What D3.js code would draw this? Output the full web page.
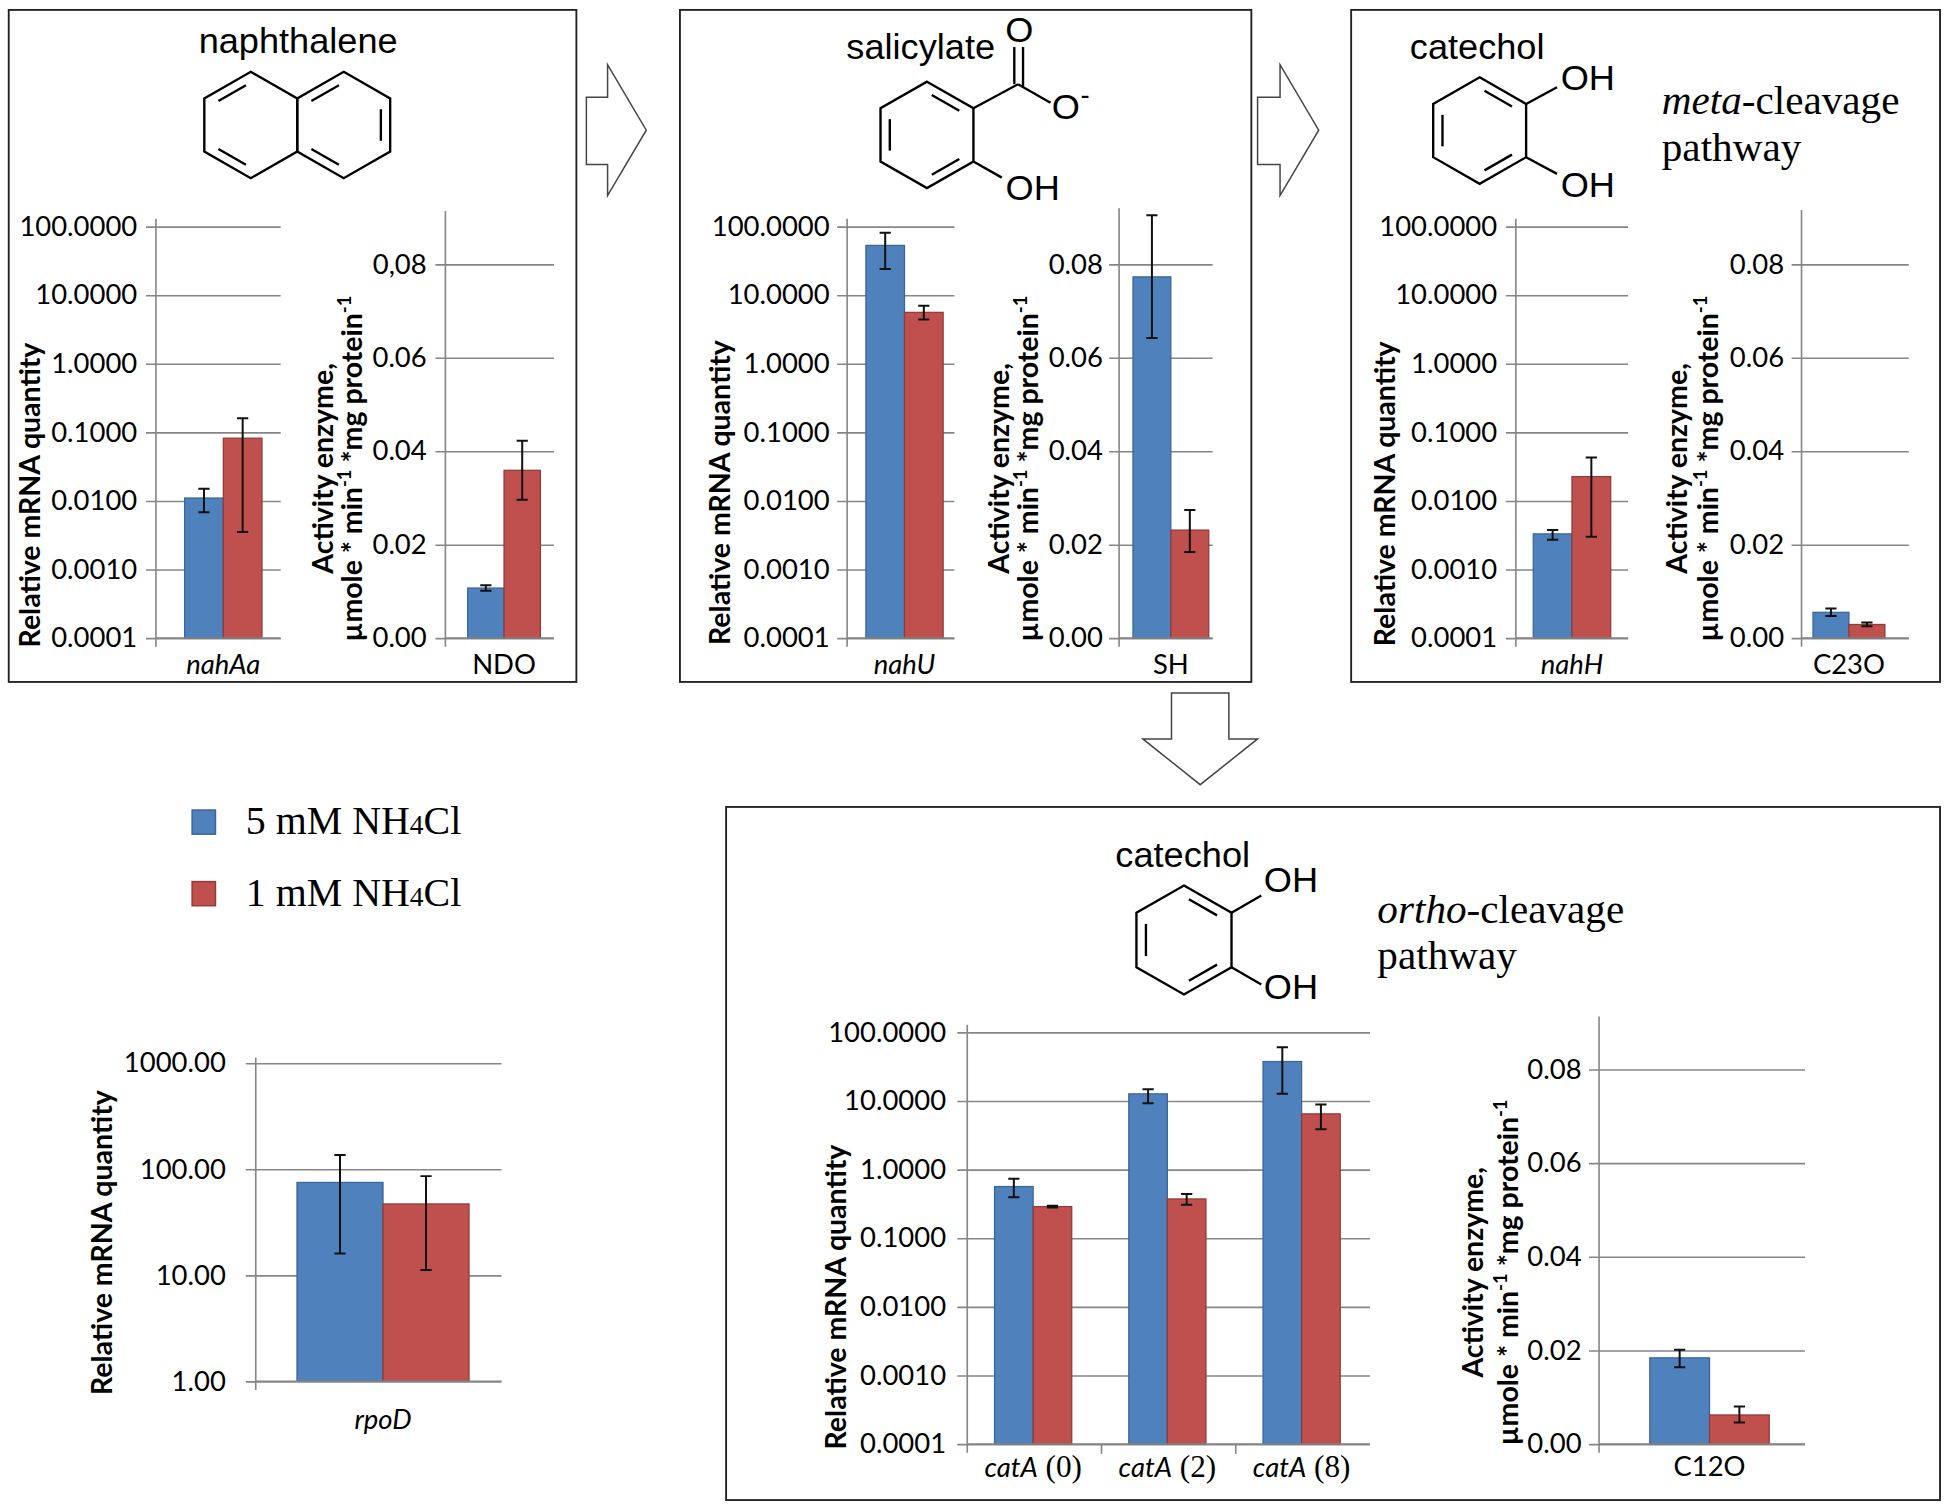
<!DOCTYPE html>
<html>
<head>
<meta charset="utf-8">
<script src="https://cdn.jsdelivr.net/npm/d3@7"></script>
<style>
  body { margin: 0; background: #fff; }
</style>
</head>
<body>
<svg id="fig"></svg>
<script>
// ---------------------------------------------------------------
// data (mean and [low, high] of error bars)
// ---------------------------------------------------------------
var groups = ["5 mM NH4Cl", "1 mM NH4Cl"];
var groupColors = ["#4f81bd", "#c0504d"];
var groupStroke = ["#3a6596", "#8f3b38"];

// relative mRNA quantity (log axis)
var nahAaMean = [0.011, 0.082];
var nahAaErr  = [[0.0068, 0.015], [0.0035, 0.16]];
var nahUMean  = [53, 5.6];
var nahUErr   = [[24, 81], [4.4, 7.0]];
var nahHMean  = [0.0033, 0.0226];
var nahHErr   = [[0.0027, 0.00375], [0.003, 0.043]];
var rpoDMean  = [75, 47];
var rpoDErr   = [[16, 136], [11.2, 86]];

var catAStrains = ["(0)", "(2)", "(8)"];
var catA5mM    = [0.564, 12.65, 37.4];
var catA5mMErr = [[0.394, 0.73], [9.25, 14.8], [12.65, 60.5]];
var catA1mM    = [0.288, 0.372, 6.46];
var catA1mMErr = [[0.279, 0.297], [0.305, 0.44], [3.86, 8.85]];

// enzyme activity, umole * min-1 * mg protein-1 (linear axis)
var ndoMean  = [0.0107, 0.0359];
var ndoErr   = [[0.0101, 0.0113], [0.0296, 0.0422]];
var shMean   = [0.0773, 0.0231];
var shErr    = [[0.0642, 0.0905], [0.0184, 0.0274]];
var c23oMean = [0.0055, 0.0029];
var c23oErr  = [[0.0047, 0.0063], [0.0025, 0.0033]];
var c12oMean = [0.0184, 0.0062];
var c12oErr  = [[0.0164, 0.0201], [0.0046, 0.0080]];

// ticks
var logTicks  = [0.0001, 0.001, 0.01, 0.1, 1, 10, 100];
var rpoDTicks = [1, 10, 100, 1000];
var actTicks  = [0, 0.02, 0.04, 0.06, 0.08];
var ndoTickText = ["0.00", "0.02", "0.04", "0.06", "0,08"];

var logTickText  = logTicks.map(d3.format(".4f"));
var rpoDTickText = rpoDTicks.map(d3.format(".2f"));
var actTickText  = actTicks.map(d3.format(".2f"));

var gridColor = "#868686";
var sans = "Lato, 'Open Sans', sans-serif";
var arial = "'Liberation Sans', Arial, sans-serif";
var serif = "'Liberation Serif', 'Times New Roman', serif";

// ---------------------------------------------------------------
// svg (drawn in a 1563 x 1216 frame, stretched to the window)
// ---------------------------------------------------------------
var svg = d3.select("#fig")
    .attr("width", 1950)
    .attr("height", 1505)
    .attr("viewBox", "0 0 1563 1216")
    .attr("preserveAspectRatio", "none");

// panels
var panels = [
  {x: 7,    y: 8,   w: 455, h: 543},
  {x: 545,  y: 8,   w: 458, h: 543},
  {x: 1083, y: 8,   w: 472, h: 543},
  {x: 582,  y: 652, w: 973, h: 560}
];
svg.selectAll(".panel")
  .data(panels)
  .enter().append("rect")
    .attr("class", "panel")
    .attr("x", function(d){ return d.x; })
    .attr("y", function(d){ return d.y; })
    .attr("width", function(d){ return d.w; })
    .attr("height", function(d){ return d.h; })
    .attr("fill", "none")
    .attr("stroke", "#222")
    .attr("stroke-width", 1.5);

// ---------------------------------------------------------------
// bar chart helper
// ---------------------------------------------------------------
function drawChart(c) {
  var g = svg.append("g").attr("class", "chart");
  var shift = c.shift || 0;

  // y scale
  var y = (c.log ? d3.scaleLog() : d3.scaleLinear())
      .domain(c.domain)
      .range([c.bottom, c.top]);

  // x scale (one equal slot per category, like excel)
  var x = d3.scaleBand()
      .domain(c.rows.map(function(d){ return d.cat; }))
      .range([c.left, c.right])
      .paddingInner(c.gap)
      .paddingOuter(c.gap / 2);

  // inner scale for the two nitrogen levels
  var xg = d3.scaleBand().domain(groups).range([0, x.bandwidth()]);

  // gridlines and tick labels
  var yAxisCall = d3.axisLeft(y)
      .tickValues(c.ticks)
      .tickSizeInner(-(c.right - c.left))
      .tickSizeOuter(0)
      .tickPadding(c.pad)
      .tickFormat(function(d, i){ return c.tickText[i]; });

  var yAxisGroup = g.append("g")
      .attr("transform", "translate(" + c.left + ",0)")
      .call(yAxisCall)
      .attr("font-size", 22)
      .attr("font-family", sans);
  yAxisGroup.select(".domain").remove();
  yAxisGroup.selectAll(".tick line")
      .attr("x1", -8)
      .attr("stroke", gridColor)
      .attr("stroke-width", 1.3);
  yAxisGroup.selectAll(".tick text").attr("fill", "#000");

  // bars
  var cats = g.selectAll(".cat")
    .data(c.rows)
    .enter().append("g")
      .attr("class", "cat")
      .attr("transform", function(d){ return "translate(" + (x(d.cat) + shift) + ",0)"; });

  var items = cats.selectAll(".item")
    .data(function(d){
      return groups.map(function(k, i){ return {key: k, i: i, v: d.vals[i], err: d.errs[i]}; });
    })
    .enter().append("g")
      .attr("class", "item");

  items.append("rect")
      .attr("x", function(d){ return xg(d.key); })
      .attr("width", xg.bandwidth())
      .attr("y", function(d){ return y(d.v); })
      .attr("height", function(d){ return c.bottom - y(d.v); })
      .attr("fill", function(d){ return groupColors[d.i]; })
      .attr("stroke", function(d){ return groupStroke[d.i]; })
      .attr("stroke-width", 1);

  // error bars
  items.append("path")
      .attr("d", function(d){
        var cx = xg(d.key) + xg.bandwidth() / 2, lo = y(d.err[0]), hi = y(d.err[1]);
        return "M" + (cx - 4.5) + "," + lo + "H" + (cx + 4.5) +
               "M" + cx + "," + lo + "V" + hi +
               "M" + (cx - 4.5) + "," + hi + "H" + (cx + 4.5);
      })
      .attr("fill", "none")
      .attr("stroke", "#111")
      .attr("stroke-width", 1.6);

  // axis lines
  g.append("line")
      .attr("x1", c.left).attr("x2", c.right)
      .attr("y1", c.bottom).attr("y2", c.bottom)
      .attr("stroke", gridColor).attr("stroke-width", 1.3);
  g.append("line")
      .attr("x1", c.left).attr("x2", c.left)
      .attr("y1", y(c.axisMax)).attr("y2", c.bottom + 7)
      .attr("stroke", gridColor).attr("stroke-width", 1.3);

  // category separators (only between categories)
  g.selectAll(".sep")
    .data(c.rows.slice(1))
    .enter().append("line")
      .attr("x1", function(d, i){ return c.left + (i + 1) * x.step(); })
      .attr("x2", function(d, i){ return c.left + (i + 1) * x.step(); })
      .attr("y1", c.bottom).attr("y2", c.bottom + 8)
      .attr("stroke", gridColor).attr("stroke-width", 1.3);

  // category labels
  var labels = g.selectAll(".catlabel")
    .data(c.rows)
    .enter().append("text")
      .attr("class", "catlabel")
      .attr("x", function(d){ return x(d.cat) + x.bandwidth() / 2 + shift; })
      .attr("y", c.labelY)
      .attr("dy", "0.35em")
      .attr("text-anchor", "middle")
      .attr("font-size", 22)
      .attr("font-family", sans);
  labels.each(function(d){
    var t = d3.select(this);
    if (d.strain) {
      t.append("tspan").attr("font-style", "italic").text(d.gene);
      t.append("tspan").attr("font-family", serif).attr("font-size", 25).text(" " + d.strain);
    } else {
      t.append("tspan").attr("font-style", d.italic ? "italic" : "normal").text(d.cat);
    }
  });

  // y title(s)
  c.titles.forEach(function(tt){
    var t = g.append("text")
        .attr("transform", "translate(" + tt.x + "," + tt.cy + ") rotate(-90)")
        .attr("text-anchor", "middle")
        .attr("dy", "0.35em")
        .attr("font-size", 23)
        .attr("font-weight", "bold")
        .attr("font-family", sans);
    tt.parts.forEach(function(p){
      var s = t.append("tspan").text(p.text);
      if (p.sup) s.attr("font-size", 15).attr("dy", -9);
      if (p.after) s.attr("dy", 9);
    });
  });
}

var mrnaTitle = [{text: "Relative mRNA quantity"}];
var actTitle1 = [{text: "Activity enzyme,"}];
var actTitle2 = [
  {text: "\u00b5mole * min"}, {text: "-1", sup: true},
  {text: " *mg protein", after: true}, {text: "-1", sup: true}
];

function oneRow(cat, vals, errs, italic) {
  return [{cat: cat, vals: vals, errs: errs, italic: italic}];
}

// ----- top row -----
drawChart({
  rows: oneRow("nahAa", nahAaMean, nahAaErr, true),
  log: true, domain: [1e-4, 100], top: 183, bottom: 515.5, left: 125, right: 225, shift: 4,
  gap: 0.38, ticks: logTicks, tickText: logTickText, pad: 15, axisMax: 130, labelY: 537,
  titles: [{x: 24, cy: 400, parts: mrnaTitle}]
});
drawChart({
  rows: oneRow("NDO", ndoMean, ndoErr, false),
  log: false, domain: [0, 0.08], top: 213.5, bottom: 515.5, left: 357, right: 444, shift: 3.5,
  gap: 0.33, ticks: actTicks, tickText: ndoTickText, pad: 15, axisMax: 0.0914, labelY: 537,
  titles: [{x: 259, cy: 378.5, parts: actTitle1}, {x: 282, cy: 378.5, parts: actTitle2}]
});
drawChart({
  rows: oneRow("nahU", nahUMean, nahUErr, true),
  log: true, domain: [1e-4, 100], top: 183, bottom: 515.5, left: 679, right: 765, shift: 3,
  gap: 0.28, ticks: logTicks, tickText: logTickText, pad: 14, axisMax: 130, labelY: 537,
  titles: [{x: 577, cy: 398, parts: mrnaTitle}]
});
drawChart({
  rows: oneRow("SH", shMean, shErr, false),
  log: false, domain: [0, 0.08], top: 213.5, bottom: 515.5, left: 897, right: 972, shift: 4,
  gap: 0.19, ticks: actTicks, tickText: actTickText, pad: 13, axisMax: 0.0920, labelY: 537,
  titles: [{x: 801, cy: 378.5, parts: actTitle1}, {x: 824, cy: 378.5, parts: actTitle2}]
});
drawChart({
  rows: oneRow("nahH", nahHMean, nahHErr, true),
  log: true, domain: [1e-4, 100], top: 183, bottom: 515.5, left: 1215, right: 1305,
  gap: 0.31, ticks: logTicks, tickText: logTickText, pad: 15, axisMax: 130, labelY: 537,
  titles: [{x: 1110, cy: 399, parts: mrnaTitle}]
});
drawChart({
  rows: oneRow("C23O", c23oMean, c23oErr, false),
  log: false, domain: [0, 0.08], top: 213.5, bottom: 515.5, left: 1444, right: 1530, shift: -5,
  gap: 0.33, ticks: actTicks, tickText: actTickText, pad: 14, axisMax: 0.0916, labelY: 537,
  titles: [{x: 1344, cy: 378.5, parts: actTitle1}, {x: 1369, cy: 378.5, parts: actTitle2}]
});

// ----- bottom row -----
drawChart({
  rows: oneRow("rpoD", rpoDMean, rpoDErr, true),
  log: true, domain: [1, 1000], top: 859, bottom: 1116, left: 205, right: 402, shift: 3.5,
  gap: 0.30, ticks: rpoDTicks, tickText: rpoDTickText, pad: 24, axisMax: 1130, labelY: 1147,
  titles: [{x: 82, cy: 1004, parts: mrnaTitle}]
});
drawChart({
  rows: catAStrains.map(function(s, i){
    return {cat: "catA " + s, gene: "catA", strain: s,
            vals: [catA5mM[i], catA1mM[i]], errs: [catA5mMErr[i], catA1mMErr[i]]};
  }),
  log: true, domain: [1e-4, 100], top: 834, bottom: 1166.7, left: 775.3, right: 1098.1, shift: -1,
  gap: 0.425, ticks: logTicks, tickText: logTickText, pad: 17, axisMax: 128, labelY: 1186,
  titles: [{x: 670, cy: 1048, parts: mrnaTitle}]
});
drawChart({
  rows: oneRow("C12O", c12oMean, c12oErr, false),
  log: false, domain: [0, 0.08], top: 864, bottom: 1166.7, left: 1281.7, right: 1446.8, shift: 6,
  gap: 0.42, ticks: actTicks, tickText: actTickText, pad: 14, axisMax: 0.0913, labelY: 1185,
  titles: [{x: 1181, cy: 1028, parts: actTitle1}, {x: 1209, cy: 1028, parts: actTitle2}]
});

// ---------------------------------------------------------------
// legend
// ---------------------------------------------------------------
var legend = svg.append("g").selectAll("g")
  .data(groups)
  .enter().append("g")
    .attr("transform", function(d, i){ return "translate(154," + (654.5 + i * 57.8) + ")"; });
legend.append("rect")
    .attr("width", 18.7).attr("height", 19.5)
    .attr("fill", function(d, i){ return groupColors[i]; })
    .attr("stroke", function(d, i){ return groupStroke[i]; })
    .attr("stroke-width", 1.2);
legend.append("text")
    .attr("x", 43).attr("y", 19.5)
    .attr("font-family", serif).attr("font-size", 32)
    .each(function(d){
      var t = d3.select(this);
      var m = d.match(/^(.*NH)4(Cl)$/);
      t.append("tspan").text(m[1]);
      t.append("tspan").attr("font-size", 22).text("4");
      t.append("tspan").text(m[2]);
    });

// ---------------------------------------------------------------
// arrows between panels
// ---------------------------------------------------------------
function rightArrow(x0, xh, xt, s0, s1, h0, h1) {
  var ym = (h0 + h1) / 2;
  return [[x0, s0], [xh, s0], [xh, h0], [xt, ym], [xh, h1], [xh, s1], [x0, s1]];
}
function downArrow(s0, s1, y0, yh, yt, h0, h1) {
  var xm = (h0 + h1) / 2;
  return [[s0, y0], [s1, y0], [s1, yh], [h1, yh], [xm, yt], [h0, yh], [s0, yh]];
}
var arrows = [
  rightArrow(470, 487, 518, 78.5, 133, 52.3, 158),
  rightArrow(1008, 1026, 1057, 78.5, 133, 52.3, 158),
  downArrow(939, 985, 560, 597, 634, 916, 1008)
];
svg.selectAll(".arrow")
  .data(arrows)
  .enter().append("polygon")
    .attr("class", "arrow")
    .attr("points", function(d){ return d.map(function(p){ return p.join(","); }).join(" "); })
    .attr("fill", "#fff")
    .attr("stroke", "#444")
    .attr("stroke-width", 1.2);

// ---------------------------------------------------------------
// structures
// ---------------------------------------------------------------
var bondW = 1.9;

// pointy-top hexagon, vertices 0=top, clockwise; doubles = edges (i, i+1) with inner line
function ring(cx, cy, r, doubles) {
  var v = d3.range(6).map(function(k){
    var a = (-90 + 60 * k) * Math.PI / 180;
    return [cx + r * Math.cos(a), cy + r * Math.sin(a)];
  });
  svg.append("path")
      .attr("d", "M" + v.map(function(p){ return p.join(","); }).join("L") + "Z")
      .attr("fill", "none").attr("stroke", "#000")
      .attr("stroke-width", bondW).attr("stroke-linejoin", "miter");
  doubles.forEach(function(e){
    var a = v[e], b = v[(e + 1) % 6];
    var pa = [cx + (a[0] - cx) * 0.8, cy + (a[1] - cy) * 0.8];
    var pb = [cx + (b[0] - cx) * 0.8, cy + (b[1] - cy) * 0.8];
    var s = 0.13;
    svg.append("line")
        .attr("x1", pa[0] + (pb[0] - pa[0]) * s).attr("y1", pa[1] + (pb[1] - pa[1]) * s)
        .attr("x2", pb[0] + (pa[0] - pb[0]) * s).attr("y2", pb[1] + (pa[1] - pb[1]) * s)
        .attr("stroke", "#000").attr("stroke-width", bondW);
  });
  return v;
}
function bond(a, b) {
  svg.append("line")
      .attr("x1", a[0]).attr("y1", a[1]).attr("x2", b[0]).attr("y2", b[1])
      .attr("stroke", "#000").attr("stroke-width", bondW);
}
function label(x, y, txt, size, anchor, family) {
  return svg.append("text")
      .attr("x", x).attr("y", y)
      .attr("text-anchor", anchor || "middle")
      .attr("font-size", size)
      .attr("font-family", family || arial)
      .text(txt);
}

// naphthalene
label(239, 43, "naphthalene", 29);
ring(201, 101, 43, [5, 3]);
ring(275.5, 101, 43, [5, 1, 3]);

// salicylate
label(738, 48, "salicylate", 29);
var sv = ring(743, 109, 43, [0, 2, 4]);
bond(sv[1], [816, 68]);
bond([813, 68], [813, 38]);
bond([820, 70], [820, 38]);
bond([816, 68], [842, 83]);
bond(sv[2], [803, 143.5]);
label(817, 34, "O", 29);
label(843, 96, "O", 29, "start");
label(866, 84, "-", 22, "start");
label(806, 162, "OH", 29, "start");

// catechol (meta)
label(1184, 48, "catechol", 29);
var mv = ring(1186, 105.5, 43, [0, 2, 4]);
bond(mv[1], [1248, 70.5]);
bond(mv[2], [1248, 140.5]);
label(1251, 72.5, "OH", 29, "start");
label(1251, 159, "OH", 29, "start");

var meta = label(1332, 92.5, "", 33, "start", serif);
meta.append("tspan").attr("font-style", "italic").text("meta");
meta.append("tspan").text("-cleavage");
label(1332, 130, "pathway", 33, "start", serif);

// catechol (ortho)
label(948, 700.5, "catechol", 29);
var ov = ring(949, 759.5, 44, [0, 2, 4]);
bond(ov[1], [1011, 723.5]);
bond(ov[2], [1011, 795.5]);
label(1013, 720.5, "OH", 29, "start");
label(1013, 807, "OH", 29, "start");

var ortho = label(1104, 745.5, "", 33, "start", serif);
ortho.append("tspan").attr("font-style", "italic").text("ortho");
ortho.append("tspan").text("-cleavage");
label(1104, 783, "pathway", 33, "start", serif);
</script>
</body>
</html>
